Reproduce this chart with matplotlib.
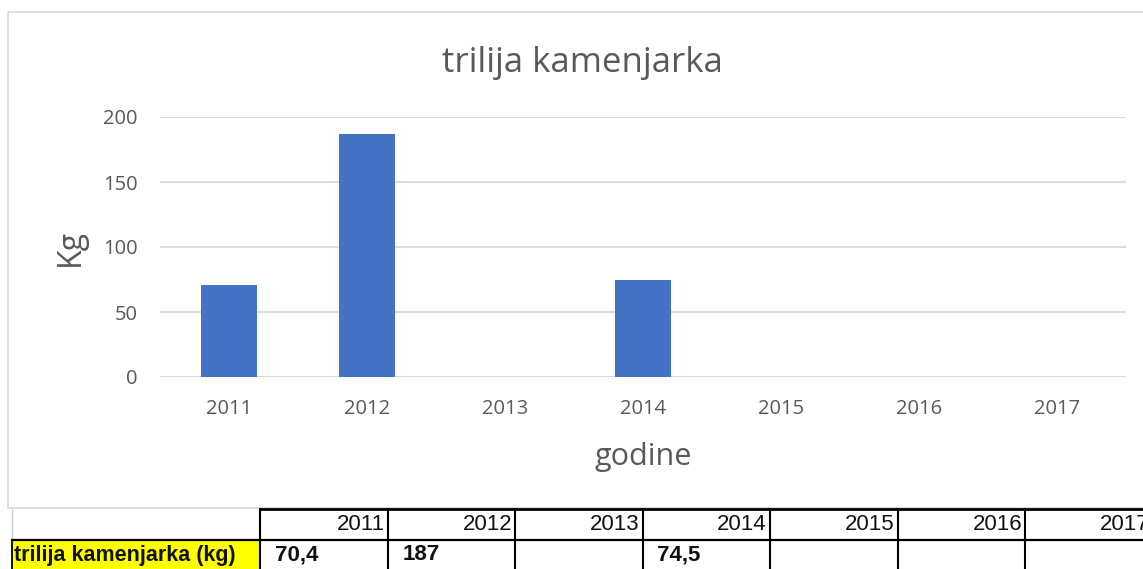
import numpy as np
import matplotlib
matplotlib.use("Agg")
import matplotlib.pyplot as plt
from matplotlib.patches import Rectangle

# podaci
godine = ["2011", "2012", "2013", "2014", "2015", "2016", "2017"]
kg = [70.4, 187, np.nan, 74.5, np.nan, np.nan, np.nan]
kg_tekst = ["70,4", "187", "", "74,5", "", "", ""]
naslov = "trilija kamenjarka"
red_naziv = "trilija kamenjarka (kg)"

W, H = 1143, 569
fig = plt.figure(figsize=(W / 100, H / 100), dpi=100)
fig.patch.set_facecolor("white")

txt_col = "#595959"
grid_col = "#d9d9d9"
bar_col = "#4472C4"
font = "Open Sans"

# pozadinski sloj u pikselima (okvir grafa + tablica)
bg = fig.add_axes([0, 0, 1, 1], zorder=0)
bg.set_xlim(0, W)
bg.set_ylim(H, 0)
bg.axis("off")
bg.add_patch(Rectangle((8, 12), W, 496, fill=False, edgecolor=grid_col, lw=1.2))

# glavni graf
ax = fig.add_axes([160 / W, 1 - 377 / H, (1126 - 160) / W, (377 - 117) / H], zorder=2)
ax.patch.set_alpha(0)
x = np.arange(len(godine))
ax.bar(x, np.nan_to_num(kg), width=0.4, color=bar_col, zorder=3)
ax.set_xlim(-0.5, len(godine) - 0.5)
ax.set_ylim(0, 200)
ax.set_yticks([0, 50, 100, 150, 200])
ax.set_xticks(x)
ax.set_xticklabels(godine)
ax.yaxis.grid(True, color=grid_col, lw=1.3, zorder=0)
ax.set_axisbelow(True)
for s in ax.spines.values():
    s.set_visible(False)
ax.axhline(0, color=grid_col, lw=1.3, zorder=1)
ax.tick_params(length=0, labelsize=14.5, labelcolor=txt_col)
ax.tick_params(axis="x", pad=16)
ax.tick_params(axis="y", pad=16)
for t in ax.get_xticklabels() + ax.get_yticklabels():
    t.set_fontfamily(font)

fig.text(582 / W, 1 - 63 / H, naslov, ha="center", va="center",
         fontsize=25, color=txt_col, family=font)
fig.text(643 / W, 1 - 457 / H, "godine", ha="center", va="center",
         fontsize=22, color=txt_col, family=font)
fig.text(70 / W, 1 - 248 / H, "Kg", ha="center", va="center", rotation=90,
         fontsize=23, color=txt_col, family=font)

# tablica ispod
col_x = [260 + i * 127.5 for i in range(len(godine) + 1)]
y_top, y_mid, y_bot = 509, 540, 580
bg.plot([12, 12], [y_top, y_mid], color="#cccccc", lw=1)
bg.add_patch(Rectangle((12, y_mid), 248, y_bot - y_mid, facecolor="#ffff00",
                       edgecolor="black", lw=1.3))
bg.plot([col_x[0], W], [y_top, y_top], color="black", lw=2)
bg.plot([12, W], [y_mid, y_mid], color="black", lw=1.6)
for cx in col_x:
    bg.plot([cx, cx], [y_top, y_bot], color="black", lw=1.5)

tfont = ["Liberation Sans Narrow", "Liberation Sans", "DejaVu Sans"]
for i, g in enumerate(godine):
    bg.text(col_x[i + 1] - 3, 524, g, ha="right", va="center",
            fontsize=16, family=tfont, color="#111111")
    if kg_tekst[i]:
        bg.text(col_x[i] + 15, 555, kg_tekst[i], ha="left", va="center",
                fontsize=16, family=tfont, weight="bold", color="#111111")
bg.text(14, 555, red_naziv, ha="left", va="center",
        fontsize=15.5, family=tfont, weight="bold", color="#111111")

fig.savefig("out.png", dpi=100)
